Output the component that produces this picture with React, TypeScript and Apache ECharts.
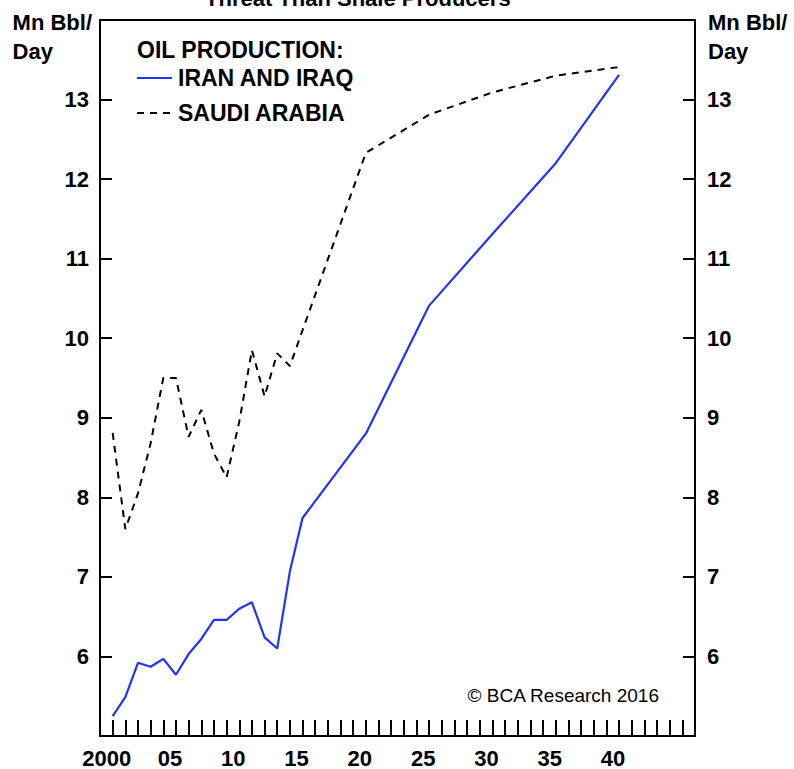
import React, { useEffect, useRef } from "react";
import * as echarts from "echarts";

const years = [2000, 2001, 2002, 2003, 2004, 2005, 2006, 2007, 2008, 2009, 2010, 2011, 2012, 2013, 2014, 2015, 2020, 2025, 2030, 2035, 2040];
const iranIraq = [5.25, 5.49, 5.92, 5.87, 5.97, 5.77, 6.03, 6.22, 6.46, 6.46, 6.6, 6.68, 6.24, 6.1, 7.07, 7.74, 8.8, 10.41, 11.31, 12.2, 13.31];
const saudiArabia = [8.81, 7.6, 8.05, 8.68, 9.5, 9.5, 8.76, 9.1, 8.55, 8.25, 8.95, 9.85, 9.27, 9.81, 9.65, 10.1, 12.33, 12.81, 13.09, 13.3, 13.41];
const seriesNames = ["IRAN AND IRAQ", "SAUDI ARABIA"];
const legendTitle = "OIL PRODUCTION:";
const unitLabel = "Mn Bbl/\nDay";
const titleText = "Threat Than Shale Producers";
const sourceText = "\u00A9 BCA Research 2016";

const FONT = "'Liberation Sans', Arial, Helvetica, sans-serif";
const BLUE = "#2233f8";

export default function App() {
  const ref = useRef<HTMLDivElement>(null);
  useEffect(() => {
    if (!ref.current) return;
    const chart = echarts.init(ref.current, null, { renderer: "svg" });
    const xLabel = (v: number) => {
      if (v % 5 !== 0 || v < 2000 || v > 2040) return "";
      return v === 2000 ? "2000" : String(v - 2000).padStart(2, "0");
    };
    const yLabel = (v: number) => (v >= 6 && v <= 13 ? String(v) : "");
    const yAxisCommon = {
      type: "value" as const,
      min: 5,
      max: 14,
      interval: 1,
      splitLine: { show: false },
      axisLine: { show: true, lineStyle: { color: "#000", width: 2 } },
      axisTick: { show: true, inside: true, length: 12, lineStyle: { color: "#000", width: 2 } },
    };
    chart.setOption({
      animation: false,
      backgroundColor: "#fff",
      grid: { left: 100, right: 99, top: 20, bottom: 32, containLabel: false },
      xAxis: [
        {
          type: "value",
          min: 1999,
          max: 2046,
          interval: 1,
          position: "bottom",
          splitLine: { show: false },
          axisLine: { show: true, onZero: false, lineStyle: { color: "#000", width: 2 } },
          axisTick: { show: true, inside: true, length: 16, lineStyle: { color: "#000", width: 2 } },
          axisLabel: {
            formatter: xLabel,
            color: "#000",
            fontFamily: FONT,
            fontWeight: "bold",
            fontSize: 22,
            margin: 11,
            padding: [0, 12, 0, 0],
          },
        },
        {
          type: "value",
          min: 1999,
          max: 2046,
          position: "top",
          splitLine: { show: false },
          axisLine: { show: true, onZero: false, lineStyle: { color: "#000", width: 2 } },
          axisTick: { show: false },
          axisLabel: { show: false },
        },
      ],
      yAxis: [
        {
          ...yAxisCommon,
          position: "left",
          axisLabel: { formatter: yLabel, color: "#000", fontFamily: FONT, fontWeight: "bold", fontSize: 22, margin: 11 },
        },
        {
          ...yAxisCommon,
          position: "right",
          axisLabel: { formatter: yLabel, color: "#000", fontFamily: FONT, fontWeight: "bold", fontSize: 22, margin: 12 },
        },
      ],
      graphic: [
        { type: "text", left: 205, top: -13, style: { text: titleText, font: `bold 22px ${FONT}`, fill: "#000" } },
        { type: "text", right: 702, top: 8, style: { text: unitLabel, font: `bold 22px ${FONT}`, fill: "#000", align: "right", lineHeight: 29 } },
        { type: "text", left: 708, top: 8, style: { text: unitLabel, font: `bold 22px ${FONT}`, fill: "#000", align: "left", lineHeight: 29 } },
        { type: "text", left: 137, top: 38, style: { text: legendTitle, font: `bold 23px ${FONT}`, fill: "#000" } },
        { type: "line", shape: { x1: 137, y1: 78, x2: 172, y2: 78 }, style: { stroke: BLUE, lineWidth: 2.2 } },
        { type: "text", left: 178, top: 66, style: { text: seriesNames[0], font: `bold 23px ${FONT}`, fill: "#000" } },
        { type: "line", shape: { x1: 137, y1: 113, x2: 172, y2: 113 }, style: { stroke: "#000", lineWidth: 2, lineDash: [7, 6] } },
        { type: "text", left: 178, top: 101, style: { text: seriesNames[1], font: `bold 23px ${FONT}`, fill: "#000" } },
        { type: "text", right: 134, top: 686, style: { text: sourceText, font: `19px ${FONT}`, fill: "#000" } },
      ],
      series: [
        {
          name: seriesNames[0],
          type: "line",
          data: years.map((y, i) => [y, iranIraq[i]]),
          symbol: "none",
          lineStyle: { color: BLUE, width: 2.2, type: "solid" },
          itemStyle: { color: BLUE },
        },
        {
          name: seriesNames[1],
          type: "line",
          data: years.map((y, i) => [y, saudiArabia[i]]),
          symbol: "none",
          lineStyle: { color: "#000", width: 2, type: [7, 6] },
          itemStyle: { color: "#000" },
        },
      ],
    });
    return () => chart.dispose();
  }, []);
  return <div ref={ref} style={{ position: "fixed", left: 0, top: 0, width: 794, height: 769 }} />;
}
